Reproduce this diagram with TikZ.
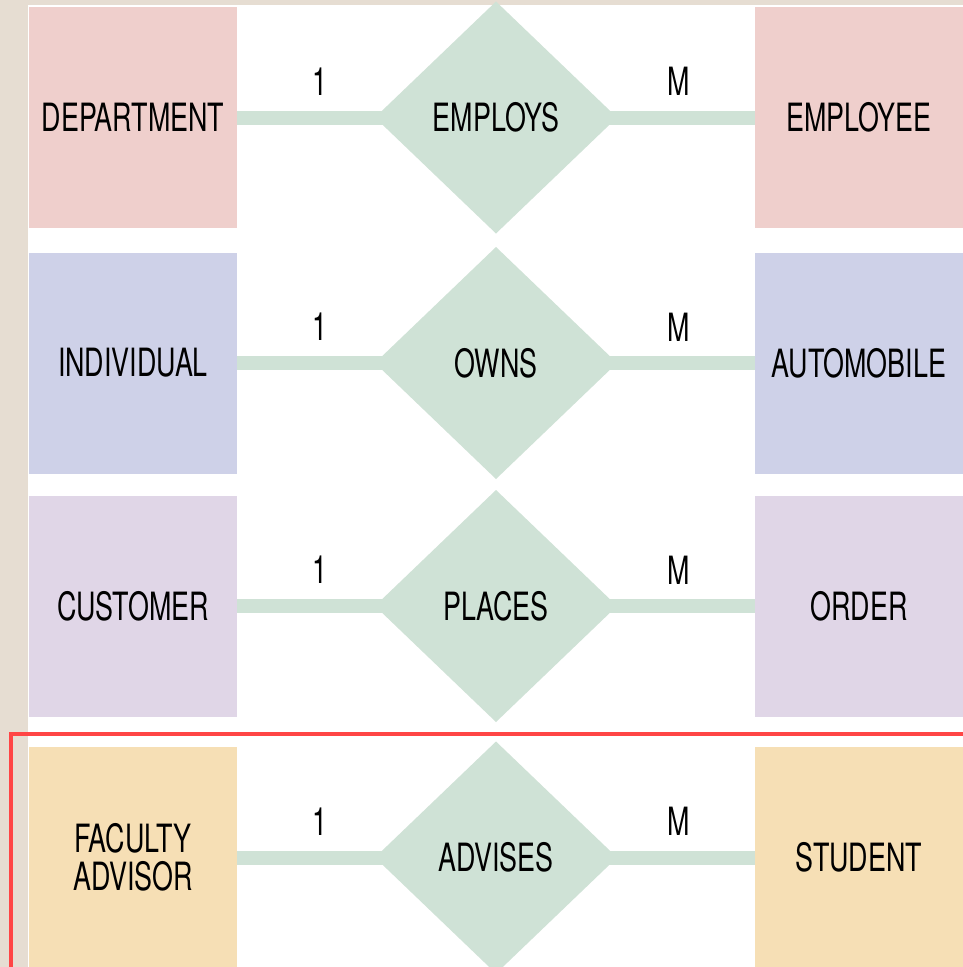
\documentclass[tikz,border=0pt]{standalone}
\usepackage{fontspec}
\setmainfont[FakeStretch=0.69]{TeX Gyre Heros}
\usetikzlibrary{positioning,shapes.geometric}

\definecolor{bgbeige}{HTML}{E6DDD2}
\definecolor{entpink}{HTML}{EFCFCC}
\definecolor{entblue}{HTML}{CED1E8}
\definecolor{entlilac}{HTML}{E0D6E7}
\definecolor{entsand}{HTML}{F6DFB5}
\definecolor{relgreen}{HTML}{CFE2D6}
\definecolor{markred}{HTML}{FF4545}

\tikzset{
  entity/.style={rectangle, minimum width=5.2cm, minimum height=5.525cm,
    inner sep=0pt, outer sep=0pt, align=center, font=\fontsize{27.7}{27}\selectfont},
  relation/.style={diamond, fill=relgreen, minimum width=6.05cm,
    minimum height=5.8cm, inner sep=0pt, outer sep=0pt, font=\fontsize{27.7}{27}\selectfont},
  linkin/.style={draw=relgreen, line width=0.35cm, shorten >=-0.3cm},
  linkout/.style={draw=relgreen, line width=0.35cm, shorten <=-0.3cm},
  card/.style={font=\fontsize{27.7}{27}\selectfont, yshift=0.9cm},
  node distance=3.45cm
}

\begin{document}
\begin{tikzpicture}
    \useasboundingbox (0,0) rectangle (24.075,-24.175);
    \clip (0,0) rectangle (24.075,-24.175);
    \fill[bgbeige] (0,0) rectangle (24.075,-24.175);
    \fill[white] (0.7,-0.12) rectangle (24.075,-24.175);

    \node[entity, fill=entpink] (dept) at (3.325,-2.9375) {DEPARTMENT};
    \node[relation, right=of dept] (employs) {EMPLOYS};
    \node[entity, fill=entpink, right=of employs] (employee) {EMPLOYEE};
    \draw[linkin] (dept) -- (employs) node[card, pos=0.6] {1};
    \draw[linkout] (employs) -- (employee) node[card, pos=0.45] {M};

    \node[entity, fill=entblue] (indiv) at (3.325,-9.075) {INDIVIDUAL};
    \node[relation, right=of indiv] (owns) {OWNS};
    \node[entity, fill=entblue, right=of owns] (auto) {AUTOMOBILE};
    \draw[linkin] (indiv) -- (owns) node[card, pos=0.6] {1};
    \draw[linkout] (owns) -- (auto) node[card, pos=0.45] {M};

    \node[entity, fill=entlilac] (cust) at (3.325,-15.15) {CUSTOMER};
    \node[relation, right=of cust] (places) {PLACES};
    \node[entity, fill=entlilac, right=of places] (order) {ORDER};
    \draw[linkin] (cust) -- (places) node[card, pos=0.6] {1};
    \draw[linkout] (places) -- (order) node[card, pos=0.45] {M};

    \node[entity, fill=entsand] (faculty) at (3.325,-21.4375) {FACULTY\\ADVISOR};
    \node[relation, right=of faculty] (advises) {ADVISES};
    \node[entity, fill=entsand, right=of advises] (student) {STUDENT};
    \draw[linkin] (faculty) -- (advises) node[card, pos=0.6] {1};
    \draw[linkout] (advises) -- (student) node[card, pos=0.45] {M};

    % highlight round the last row
    \draw[markred, line width=0.1cm] (0.275,-18.35) rectangle (25,-25);
\end{tikzpicture}
\end{document}
